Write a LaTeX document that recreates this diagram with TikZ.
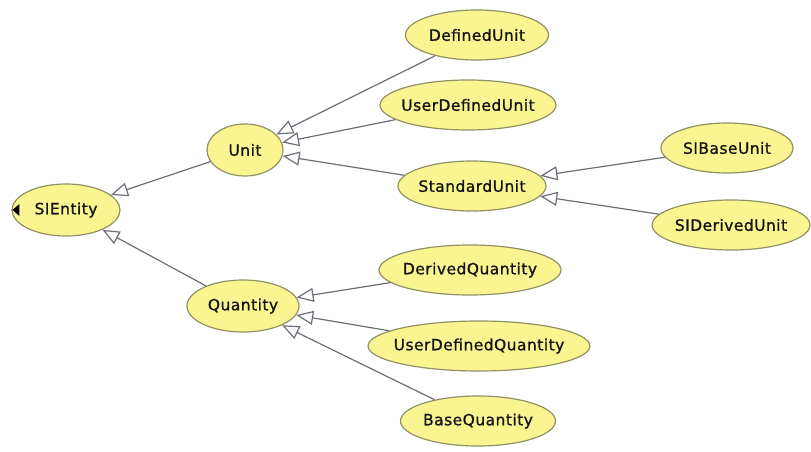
\documentclass[tikz,border=0pt]{standalone}
\usepackage{fontspec}
\setmainfont{DejaVu Sans}[LetterSpace=3.0,FakeBold=1.0]
\usetikzlibrary{arrows.meta,shapes.geometric}
\definecolor{nodefill}{RGB}{250,245,145}
\definecolor{nodeborder}{RGB}{145,145,100}
\definecolor{edgecol}{RGB}{110,110,120}
\definecolor{txtcol}{RGB}{20,20,20}
\tikzset{
  cls/.style={ellipse, draw=nodeborder, fill=nodefill, line width=1.2pt, inner sep=0pt,
              minimum height=50pt, text=txtcol,
              font=\fontsize{15.5}{18}\selectfont},
  isa/.style={draw=edgecol, line width=1.2pt,
              -{Triangle[length=17pt,width=14pt,fill=white,line width=1.2pt]}},
}
\newcommand{\lbl}[1]{\makebox[0pt][c]{#1}}
\begin{document}
\begin{tikzpicture}[x=1pt,y=-1pt]
\useasboundingbox (0,0) rectangle (811,452);
\fill[white] (0,0) rectangle (811,452);

\node[cls, minimum width=108pt, minimum height=52pt] (sientity) at (66,210) {\lbl{SIEntity}};
\node[cls, minimum width=76pt, minimum height=52pt] (unit) at (245,150) {\lbl{Unit}};
\node[cls, minimum width=143pt] (definedunit) at (477,35) {\lbl{DefinedUnit}};
\node[cls, minimum width=176pt] (userdefinedunit) at (468,105) {\lbl{UserDefinedUnit}};
\node[cls, minimum width=148pt] (standardunit) at (472,186) {\lbl{StandardUnit}};
\node[cls, minimum width=132pt] (sibaseunit) at (727,148) {\lbl{SIBaseUnit}};
\node[cls, minimum width=158pt] (siderivedunit) at (731,225) {\lbl{SIDerivedUnit}};
\node[cls, minimum width=112pt, minimum height=52pt] (quantity) at (243,306) {\lbl{Quantity}};
\node[cls, minimum width=182pt] (derivedquantity) at (470,270) {\lbl{DerivedQuantity}};
\node[cls, minimum width=222pt] (userdefinedquantity) at (479,346) {\lbl{UserDefinedQuantity}};
\node[cls, minimum width=155pt] (basequantity) at (478,421) {\lbl{BaseQuantity}};

% collapse marker
\fill[black] ([xshift=1pt]sientity.west) -- ++(7,-6) -- ++(0,12) -- cycle;

\draw[isa] (unit) -- (sientity);
\draw[isa] (quantity) -- (sientity);
\draw[isa] (definedunit) -- (unit);
\draw[isa] (userdefinedunit) -- (unit);
\draw[isa] (standardunit) -- (unit);
\draw[isa] (sibaseunit) -- (standardunit);
\draw[isa] (siderivedunit) -- (standardunit);
\draw[isa] (derivedquantity) -- (quantity);
\draw[isa] (userdefinedquantity) -- (quantity);
\draw[isa] (basequantity) -- (quantity);
\end{tikzpicture}
\end{document}
